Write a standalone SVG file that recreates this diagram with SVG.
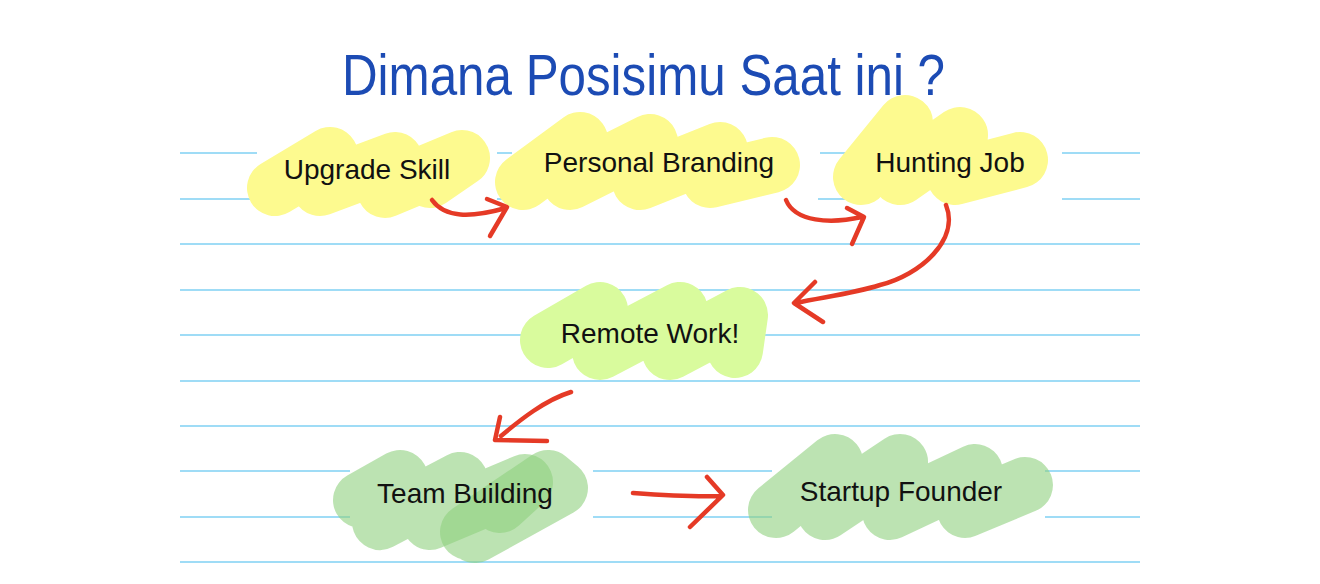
<svg xmlns="http://www.w3.org/2000/svg" width="1320" height="584" viewBox="0 0 1320 584">
<style>
.rule{stroke:#9fdcf6;stroke-width:2;fill:none}
.hl{fill:none;stroke-linecap:round;stroke-linejoin:round;stroke-width:56}
.y{stroke:#fdfa8f}
.lg{stroke:#d9fb9d}
.g{stroke:#8fd07f;stroke-opacity:0.6}
.lbl{font-family:"Liberation Sans",Arial,sans-serif;font-size:28px;fill:#111;text-anchor:middle}
.title{font-family:"Liberation Sans",Arial,sans-serif;font-size:58px;fill:#1c4bb4}
.arr{fill:none;stroke:#e53a26;stroke-width:4.5;stroke-linecap:round;stroke-linejoin:round}
</style>
<rect width="1320" height="584" fill="#fff"/>
<g id="rules">
<path class="rule" d="M180,153H257M497,153H512M820,153H852M1062,153H1140"/>
<path class="rule" d="M180,199H257M497,199H512M818,199H852M1062,199H1140"/>
<path class="rule" d="M180,244H1140"/>
<path class="rule" d="M180,290H1140"/>
<path class="rule" d="M180,335H535M763,335H1140"/>
<path class="rule" d="M180,381H1140"/>
<path class="rule" d="M180,426H1140"/>
<path class="rule" d="M180,471H350M593,471H772M1045,471H1140"/>
<path class="rule" d="M180,517H350M593,517H772M1045,517H1140"/>
<path class="rule" d="M180,562H1140"/>
</g>
<text class="title" x="342" y="95" textLength="603" lengthAdjust="spacingAndGlyphs">Dimana Posisimu Saat ini ?</text>
<g id="upgrade-skill">
<path class="hl y" d="M275,188 L330,155 L320,188 L395,160 L385,190 L462,158 L430,180"/>
<text class="lbl" x="367" y="179">Upgrade Skill</text>
</g>
<g id="personal-branding">
<path class="hl y" d="M523,182 L580,140 L570,182 L650,142 L640,182 L720,150 L710,180 L772,165"/>
<text class="lbl" x="659" y="172">Personal Branding</text>
</g>
<g id="hunting-job">
<path class="hl y" d="M861,177 L905,123 L900,177 L960,135 L955,177 L1020,160"/>
<text class="lbl" x="950" y="172">Hunting Job</text>
</g>
<g id="remote-work">
<path class="hl lg" d="M548,340 L600,310 L600,352 L680,310 L670,352 L740,315 L735,350"/>
<text class="lbl" x="650" y="343">Remote Work!</text>
</g>
<g id="team-building">
<path class="hl g" d="M361,500 L400,478 L380,522 L460,480 L430,522 L525,482 L500,505"/>
<path class="hl g" d="M468,532 L548,478 L560,488 L475,535"/>
<text class="lbl" x="465" y="503">Team Building</text>
</g>
<g id="startup-founder">
<path class="hl g" d="M776,510 L835,462 L825,512 L900,462 L890,512 L975,472 L965,510 L1025,485"/>
<text class="lbl" x="901" y="501">Startup Founder</text>
</g>
<g id="connectors">
<path class="arr" d="M432,200 C445,218 470,218 506,208 M487,199 L507,207 L490,236"/>
<path class="arr" d="M786,200 C795,222 830,224 862,217 M847,208 L864,217 L852,244"/>
<path class="arr" d="M946,205 C960,240 920,275 880,285 C855,293 830,296 795,303 M815,282 L794,303 L823,322"/>
<path class="arr" d="M571,392 C545,400 520,420 501,436 M500,417 L495,440 L547,441"/>
<path class="arr" d="M633,493 C660,495 695,497 722,496 M707,477 L723,495 L690,527"/>
</g>
</svg>
